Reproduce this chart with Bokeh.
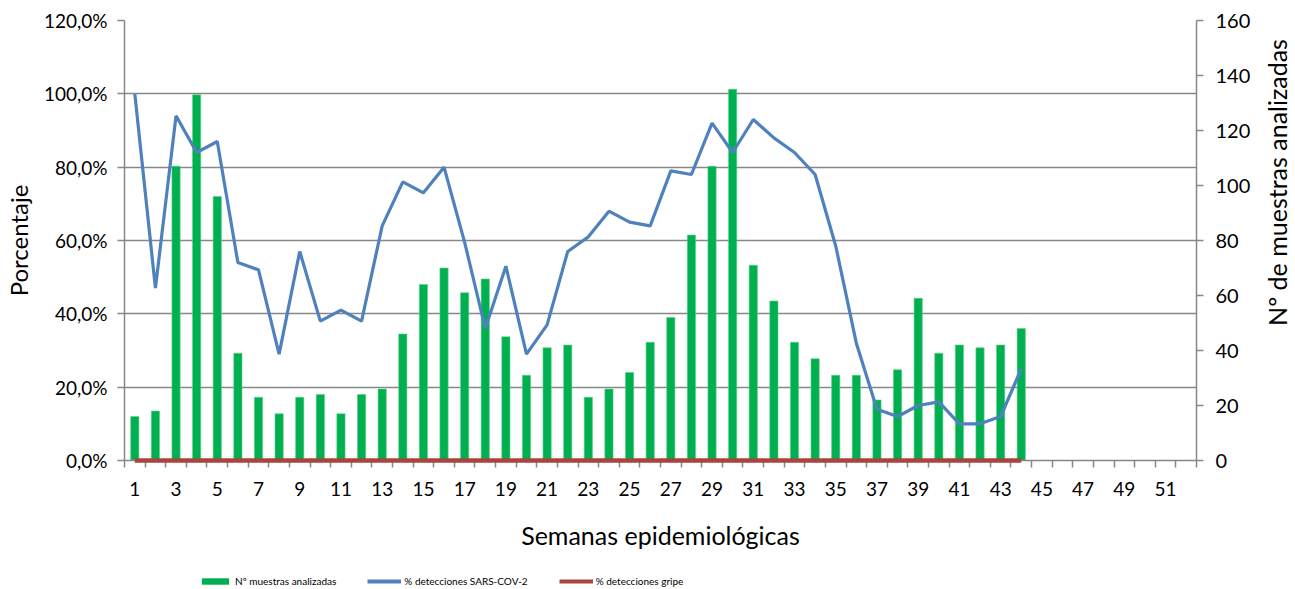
import math
from bokeh.plotting import figure
from bokeh.layouts import row, column
from bokeh.models import (Range1d, LinearAxis, FixedTicker, Legend, LegendItem, ColumnDataSource, Label)
from bokeh.embed import file_html
from bokeh.resources import INLINE

weeks = list(range(1, 45))
muestras = [16, 18, 107, 133, 96, 39, 23, 17, 23, 24, 17, 24, 26, 46, 64, 70, 61, 66, 45, 31,
            41, 42, 23, 26, 32, 43, 52, 82, 107, 135, 71, 58, 43, 37, 31, 31, 22, 33, 59, 39,
            42, 41, 42, 48]
sars = [100, 47, 94, 84, 87, 54, 52, 29, 57, 38, 41, 38, 64, 76, 73, 80, 59.5, 36, 53, 29,
        37, 57, 61, 68, 65, 64, 79, 78, 92, 84, 93, 88, 84, 78, 58.5, 32, 14, 12, 15, 16,
        10, 10, 12, 25]
gripe = [0] * 44

left_ticks = [0, 20, 40, 60, 80, 100, 120]
left_labels = ["0,0%", "20,0%", "40,0%", "60,0%", "80,0%", "100,0%", "120,0%"]
right_ticks = [0, 20, 40, 60, 80, 100, 120, 140, 160]
x_tick_weeks = list(range(1, 53, 2))

FONT = "Lato"
GRAY = "#878787"
TICK_FS = "19px"
GREEN, BLUE, RED = "#00B050", "#4F81BD", "#A9443F"

MAIN_W, SIDE_W = 1260, 35
MAIN_H, LEG_H = 572, 17

src = ColumnDataSource(dict(week=weeks, muestras=muestras, sars=sars, gripe=gripe))

p = figure(frame_width=1072, frame_height=440, output_backend="svg", toolbar_location=None,
           x_range=Range1d(0.5, 52.5), y_range=Range1d(0, 120),
           min_border_left=123, min_border_right=MAIN_W - 123 - 1072, min_border_top=20,
           min_border_bottom=MAIN_H - 20 - 440)
p.outline_line_color = None
p.extra_y_ranges = {"n": Range1d(0, 160)}

bars = p.vbar(x="week", top="muestras", width=0.4, source=src, y_range_name="n",
              fill_color=GREEN, line_color="#5fd08a", line_width=0.6)
l1 = p.line(x="week", y="sars", source=src, line_color=BLUE, line_width=3.2)
l2 = p.line(x="week", y="gripe", source=src, line_color=RED, line_width=4.5, level="overlay")

# x axis
xa = p.xaxis[0]
xa.ticker = FixedTicker(ticks=x_tick_weeks, minor_ticks=[w + 0.5 for w in range(0, 53)])
xa.major_tick_out = 0
xa.major_tick_in = 0
xa.minor_tick_out = 7
xa.minor_tick_in = 0
xa.minor_tick_line_color = GRAY
xa.minor_tick_line_width = 1.5
xa.axis_line_color = GRAY
xa.axis_line_width = 1.5
xa.major_label_text_font = FONT
xa.major_label_text_font_size = TICK_FS
xa.major_label_text_color = "#000000"
xa.major_label_standoff = 14
xa.axis_label = "Semanas epidemiológicas"
xa.axis_label_text_font = FONT
xa.axis_label_text_font_style = "normal"
xa.axis_label_text_font_size = "25px"
xa.axis_label_text_color = "#000000"
xa.axis_label_standoff = 21

# left axis
ya = p.yaxis[0]
ya.ticker = FixedTicker(ticks=left_ticks)
ya.major_label_overrides = {t: s for t, s in zip(left_ticks, left_labels)}
ya.major_tick_out = 7
ya.major_tick_in = 0
ya.minor_tick_out = 0
ya.minor_tick_in = 0
ya.major_tick_line_color = GRAY
ya.major_tick_line_width = 1.5
ya.axis_line_color = GRAY
ya.axis_line_width = 1.5
ya.major_label_text_font = FONT
ya.major_label_text_font_size = TICK_FS
ya.major_label_text_color = "#000000"
ya.major_label_standoff = 10
ya.axis_label = "Porcentaje"
ya.axis_label_text_font = FONT
ya.axis_label_text_font_style = "normal"
ya.axis_label_text_font_size = "24px"
ya.axis_label_text_color = "#000000"
ya.axis_label_standoff = 8

# right axis
ra = LinearAxis(y_range_name="n", ticker=FixedTicker(ticks=right_ticks))
ra.major_tick_out = 7
ra.major_tick_in = 0
ra.minor_tick_out = 0
ra.minor_tick_in = 0
ra.major_tick_line_color = GRAY
ra.major_tick_line_width = 1.5
ra.axis_line_color = GRAY
ra.axis_line_width = 1.5
ra.major_label_text_font = FONT
ra.major_label_text_font_size = "20px"
ra.major_label_text_color = "#000000"
ra.major_label_standoff = 12
p.add_layout(ra, "right")

p.xgrid.grid_line_color = None
p.ygrid.ticker = FixedTicker(ticks=[20, 40, 60, 80, 100, 120])
p.ygrid.grid_line_color = GRAY
p.ygrid.grid_line_width = 1.5

# right-hand axis title (reads bottom to top, as in the reference)
# the side figure's frame is aligned with the main frame (440 px tall, bottom at y=460)
side = figure(width=SIDE_W, height=MAIN_H, output_backend="svg", toolbar_location=None,
              x_range=Range1d(0, 1), y_range=Range1d(0, 1),
              min_border=0, x_axis_location=None, y_axis_location=None)
side.outline_line_color = None
side.grid.visible = False
side.add_layout(Label(x=15, y=460 - 182, x_units="screen", y_units="screen",
                      text="Nº de muestras analizadas", angle=math.pi / 2,
                      text_align="center", text_baseline="middle",
                      text_font=FONT, text_font_size="25px", text_color="#000000"))

# legend strip (renderers use the real data but lie outside this strip's view)
lf = figure(width=MAIN_W + SIDE_W, height=LEG_H, output_backend="svg", toolbar_location=None,
            x_range=Range1d(-3, -2), y_range=Range1d(-3, -2),
            min_border=0, x_axis_location=None, y_axis_location=None)
lf.outline_line_color = None
lf.grid.visible = False
lb = lf.vbar(x="week", top="muestras", width=0.4, source=src, fill_color=GREEN, line_color=None)
lb1 = lf.line(x="week", y="sars", source=src, line_color=BLUE, line_width=4)
lb2 = lf.line(x="week", y="gripe", source=src, line_color=RED, line_width=4)
legend = Legend(items=[
    LegendItem(label="Nº muestras analizadas", renderers=[lb]),
    LegendItem(label="% detecciones SARS-COV-2", renderers=[lb1]),
    LegendItem(label="% detecciones gripe", renderers=[lb2]),
], orientation="horizontal", location=(198, 1))
legend.label_text_font = FONT
legend.label_text_font_size = "10px"
legend.label_text_color = "#000000"
legend.glyph_width = 34
legend.glyph_height = 8
legend.spacing = 31
legend.padding = 0
legend.margin = 0
legend.border_line_color = None
legend.background_fill_alpha = 0
legend.label_standoff = 3
legend.label_height = 14
lf.add_layout(legend, "center")

layout = column(row(p, side, spacing=0), lf, spacing=0)
open("out.html", "w").write(file_html(layout, INLINE))
